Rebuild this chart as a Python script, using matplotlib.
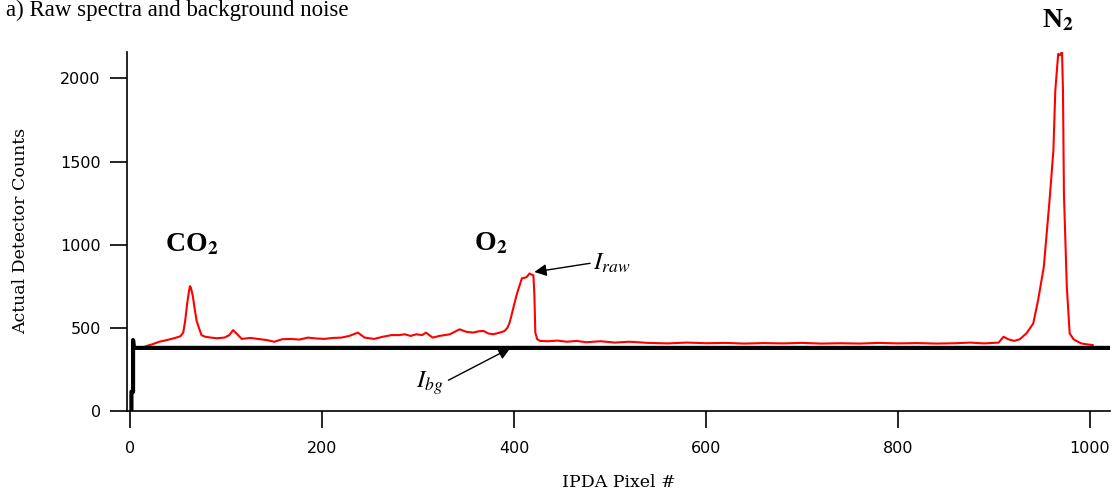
import numpy as np
import matplotlib.pyplot as plt

# Raw spectrum (red), in pieces
co2_px = [10, 13, 18, 23, 30, 38, 46, 52, 55, 57, 59, 61, 62, 63, 65, 67, 69, 71, 74, 78]
co2_counts = [372, 380, 392, 400, 415, 425, 437, 448, 470, 540, 640, 720, 750, 740, 690,
              610, 540, 505, 455, 445]

mid_px = [84, 90, 98, 103, 107, 111, 116, 125, 133, 142, 150, 158, 168, 176, 185, 193, 202,
          211, 220, 228, 237, 244, 254, 263, 272, 280, 286, 292, 298, 304, 308, 315, 322,
          333, 343, 350, 357, 363, 368, 373, 378, 385, 390]
mid_counts = [440, 436, 440, 455, 485, 462, 432, 438, 432, 425, 415, 430, 432, 428, 440,
              435, 432, 438, 440, 450, 470, 440, 432, 445, 455, 455, 460, 450, 460, 455,
              470, 440, 450, 460, 490, 475, 470, 478, 480, 465, 460, 470, 480]

o2_px = [393, 395, 397, 400, 403, 406, 408, 411, 413, 416, 418, 420, 421, 422, 424, 427]
o2_counts = [500, 527, 570, 640, 707, 760, 797, 800, 805, 826, 820, 815, 700, 470, 430, 420]

flat_px = [435, 445, 455, 465, 475, 490, 505, 520, 540, 560, 580, 600, 620, 640, 660, 680,
           700, 720, 740, 760, 780, 800, 820, 840, 860, 875, 890, 900]
flat_counts = [418, 422, 415, 420, 412, 418, 410, 415, 408, 405, 410, 406, 408, 404, 407,
               405, 408, 404, 406, 404, 408, 405, 407, 404, 406, 410, 405, 408]

n2_px = [905, 910, 915, 921, 927, 934, 941, 946, 952, 955, 958, 962, 964, 967, 969, 971,
         972, 973, 976, 979, 983, 986, 991, 996, 1003]
n2_counts = [410, 445, 430, 420, 430, 466, 525, 663, 865, 1066, 1266, 1566, 1927, 2148,
             2140, 2160, 1927, 1306, 745, 465, 430, 420, 405, 400, 395]

raw_px = co2_px + mid_px + o2_px + flat_px + n2_px
raw_counts = co2_counts + mid_counts + o2_counts + flat_counts + n2_counts

# Background noise (black)
bg_px = [1, 1, 2.7, 2.7, 3.5, 1021]
bg_counts = [0, 114, 114, 425, 378, 378]

plt.rcParams['mathtext.fontset'] = 'stix'

fig = plt.figure(figsize=(11.15, 4.99), dpi=100)
ax = fig.add_axes([0.114, 0.177, 0.8815, 0.719])

ax.plot(raw_px, raw_counts, color='red', lw=1.5)
ax.plot(bg_px, bg_counts, color='black', lw=3)

ax.set_xlim(-3.5, 1021)
ax.set_ylim(0, 2160)
ax.set_xticks([0, 200, 400, 600, 800, 1000])
ax.set_yticks([0, 500, 1000, 1500, 2000])
for s in ['top', 'right']:
    ax.spines[s].set_visible(False)
for s in ['left', 'bottom']:
    ax.spines[s].set_linewidth(1.2)
ax.tick_params(axis='both', length=12, width=1.2, labelsize=11.5)
ax.tick_params(axis='x', pad=10)
ax.tick_params(axis='y', pad=7)

ax.set_xlabel('IPDA Pixel #', family='DejaVu Serif', fontsize=12.5, labelpad=13)
ax.set_ylabel('Actual Detector Counts', family='DejaVu Serif', fontsize=12.5, labelpad=22)

# Peak labels
box = dict(facecolor='white', edgecolor='none', pad=6)
ax.text(64, 1002, r'CO$_\mathbf{2}$', family='Liberation Serif', fontweight='bold',
        fontsize=20, ha='center', va='center', bbox=box)
ax.text(375, 1008, r'O$_\mathbf{2}$', family='Liberation Serif', fontweight='bold',
        fontsize=20, ha='center', va='center', bbox=box)
ax.text(967, 2348, r'N$_\mathbf{2}$', family='Liberation Serif', fontweight='bold',
        fontsize=20, ha='center', va='center', clip_on=False)

ax.annotate(r'$I_{raw}$', xy=(421, 835), xytext=(482, 890), fontsize=18,
            va='center', ha='left',
            arrowprops=dict(arrowstyle='-|>', color='black', lw=1, mutation_scale=18,
                            shrinkA=0, shrinkB=0, relpos=(0, 0.5)))
ax.annotate(r'$I_{bg}$', xy=(396, 377), xytext=(326, 167), fontsize=18,
            va='center', ha='right',
            arrowprops=dict(arrowstyle='-|>', color='black', lw=1, mutation_scale=18,
                            shrinkA=2, shrinkB=0, relpos=(1, 0.5)))

fig.text(0.005, 1 - 16 / 499, 'a) Raw spectra and background noise',
         family='Liberation Serif', fontsize=16.5, va='baseline', ha='left')

fig.savefig('out.png', dpi=100)
